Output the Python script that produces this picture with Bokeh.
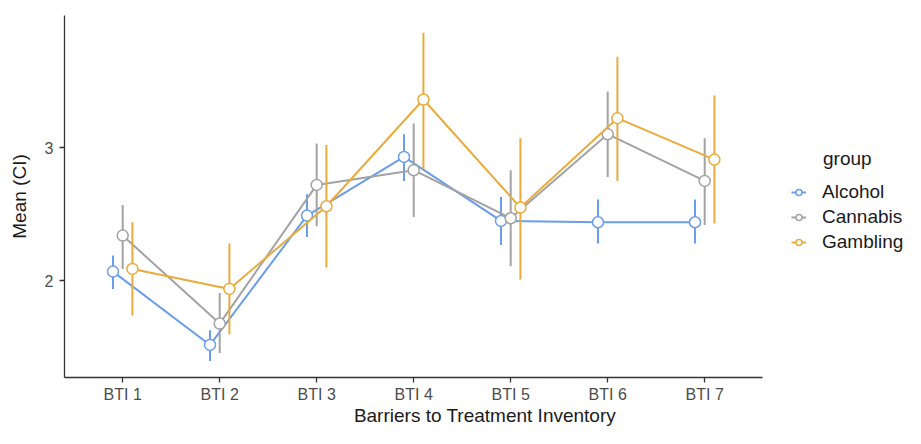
import numpy as np
from bokeh.plotting import figure
from bokeh.models import (ColumnDataSource, FixedTicker, Range1d, Legend, LegendItem, Label)
from bokeh.transform import dodge
from bokeh.embed import file_html
from bokeh.resources import INLINE

categories = ["BTI 1", "BTI 2", "BTI 3", "BTI 4", "BTI 5", "BTI 6", "BTI 7"]
groups = ["Alcohol", "Cannabis", "Gambling"]
colors = ["#6A9EEB", "#A3A3A3", "#E9AB3C"]
offsets = [-0.1, 0.0, 0.1]

alcohol_mean = [2.07, 1.52, 2.49, 2.93, 2.45, 2.44, 2.44]
alcohol_low = [1.94, 1.40, 2.33, 2.75, 2.27, 2.28, 2.28]
alcohol_high = [2.19, 1.63, 2.65, 3.10, 2.63, 2.61, 2.61]

cannabis_mean = [2.34, 1.68, 2.72, 2.83, 2.47, 3.10, 2.75]
cannabis_low = [2.09, 1.46, 2.41, 2.48, 2.11, 2.78, 2.42]
cannabis_high = [2.57, 1.91, 3.03, 3.18, 2.83, 3.42, 3.07]

gambling_mean = [2.09, 1.94, 2.56, 3.36, 2.55, 3.22, 2.91]
gambling_low = [1.74, 1.60, 2.10, 2.84, 2.01, 2.75, 2.43]
gambling_high = [2.44, 2.28, 3.02, 3.86, 3.07, 3.68, 3.39]

series = [
    (alcohol_mean, alcohol_low, alcohol_high),
    (cannabis_mean, cannabis_low, cannabis_high),
    (gambling_mean, gambling_low, gambling_high),
]

FONT = "Liberation Sans"

W, H = 905, 428
LEFT, RIGHT, TOP, BOTTOM = 64, 0, 15, 44
x_start, x_end_axis = 0.4, 7.6
px_per_unit = 97.0
x_end = x_start + (W - LEFT - RIGHT) / px_per_unit  # room on the right for the legend
y_start, y_end = 1.276, 3.99

p = figure(width=W, height=H, output_backend="svg", toolbar_location=None,
           x_range=Range1d(x_start, x_end), y_range=Range1d(y_start, y_end),
           min_border_left=LEFT, min_border_right=RIGHT, min_border_top=TOP,
           min_border_bottom=BOTTOM)
p.outline_line_color = None
p.grid.grid_line_color = None
p.background_fill_color = "white"

xs = list(range(1, len(categories) + 1))
items = []
for name, col, off, (m, lo, hi) in zip(groups, colors, offsets, series):
    src = ColumnDataSource(dict(x=xs, mean=m, low=lo, high=hi))
    xd = dodge("x", off, range=p.x_range)
    p.segment(x0=xd, y0="low", x1=xd, y1="high", source=src, line_color=col, line_width=2)
    ln = p.line(x=xd, y="mean", source=src, line_color=col, line_width=2)
    sc = p.scatter(x=xd, y="mean", source=src, size=11, marker="circle",
                   fill_color="white", line_color=col, line_width=1.5)
    items.append(LegendItem(label=name, renderers=[ln, sc]))

legend = Legend(items=items, location=(727, 124), orientation="vertical")
legend.label_text_font = FONT
legend.label_text_font_size = "19px"
legend.label_text_color = "#1a1a1a"
legend.glyph_width = 15
legend.glyph_height = 20
legend.label_standoff = 16
legend.spacing = 3
legend.padding = 10
legend.margin = 0
legend.border_line_color = None
legend.background_fill_alpha = 0
legend.label_height = 20
p.add_layout(legend)

legend_title = Label(x=8.22, y=2.92, text="group", text_font=FONT, text_font_size="19px",
                     text_color="#1a1a1a", text_baseline="middle", text_align="left")
p.add_layout(legend_title)

p.xaxis.ticker = FixedTicker(ticks=xs)
p.xaxis.major_label_overrides = {x: c for x, c in zip(xs, categories)}
p.xaxis.bounds = (x_start, x_end_axis)
p.yaxis.ticker = FixedTicker(ticks=[2, 3])

for ax in (p.xaxis, p.yaxis):
    ax.axis_line_color = "#333333"
    ax.axis_line_width = 1.3
    ax.major_tick_line_color = "#333333"
    ax.major_tick_line_width = 1.3
    ax.major_tick_out = 5
    ax.major_tick_in = 0
    ax.minor_tick_line_color = None
    ax.major_label_text_font = FONT
    ax.major_label_text_font_size = "16px"
    ax.major_label_text_color = "#4d4d4d"
    ax.axis_label_text_font = FONT
    ax.axis_label_text_font_size = "19px"
    ax.axis_label_text_font_style = "normal"
    ax.axis_label_text_color = "#1a1a1a"

p.xaxis.axis_label = "Barriers to Treatment Inventory"
p.yaxis.axis_label = "Mean (CI)"
p.xaxis.major_label_standoff = 3
p.xaxis.axis_label_standoff = -1
p.yaxis.major_label_standoff = 6
p.yaxis.axis_label_standoff = 12

open("out.html", "w").write(file_html(p, INLINE))
